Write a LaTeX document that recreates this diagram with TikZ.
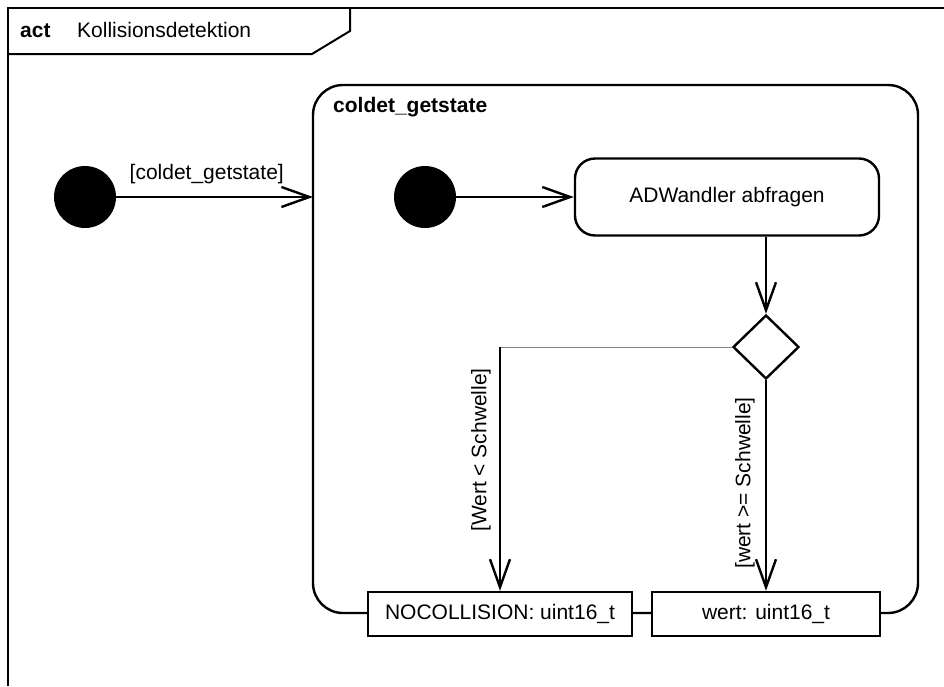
\documentclass[tikz,border=0pt]{standalone}
\usepackage{fontspec}
\setmainfont{Liberation Sans}
\usetikzlibrary{arrows.meta,shapes.geometric}
\begin{document}
\begin{tikzpicture}[x=1pt,y=-1pt,
  every node/.style={font=\fontsize{21}{25}\selectfont, inner sep=0pt},
  line/.style={line width=2.4pt, line join=miter},
  flow/.style={line, -{Straight Barb[length=28pt,width=20pt,line width=2.4pt]}},
  startnode/.style={circle, fill=black, minimum size=62pt},
  actbox/.style={line, draw, rounded corners=20pt, minimum width=304pt, minimum height=77pt},
  decnode/.style={line, draw, diamond, minimum width=66pt, minimum height=64pt},
  pinbox/.style={line, draw, fill=white, minimum height=44pt},
  guard/.style={rotate=90}
]
\useasboundingbox (0,0) rectangle (944,686);

% activity frame with its name tab
\draw[line width=2pt] (8,686) -- (8,8) -- (944,8);
\draw[line width=2pt] (8,54) -- (312,54) -- (350,31) -- (350,8);
\node[anchor=west, font=\fontsize{21}{25}\selectfont\bfseries] (kw) at (20,31) {act};
\node[anchor=west] (title) at (77,30) {Kollisionsdetektion};

% structured activity node
\draw[line, rounded corners=30pt] (313,85) rectangle (918,613);
\node[anchor=west, font=\fontsize{21}{25}\selectfont\bfseries] (sname) at (333,107) {coldet\_getstate};
\coordinate (sentry) at (313,197);

% outer flow into the structured node
\node[startnode] (init) at (85,197) {};
\draw[flow] (init) -- node[pos=0.46, above=12pt] (g0) {[coldet\_getstate]} (sentry);

% inner flow
\node[startnode] (init2) at (425,197) {};
\node[actbox] (ad) at (727,197) {ADWandler abfragen};
\node[decnode] (dec) at (766,347) {};
\draw[flow] (init2) -- (ad);
\draw[flow] (ad.south -| dec) -- (dec.north);

% output pins
\node[pinbox, minimum width=264pt] (nocol) at (500,614) {NOCOLLISION: uint16\_t};
\node[pinbox, minimum width=228pt] (wert) at (766,614) {wert: uint16\_t};

% branches
\coordinate (bend) at (500,347);
\draw[gray, line width=1pt] (dec.west) -- (bend);
\draw[flow] (bend) -- (nocol.north);
\draw[flow] (dec.south) -- (wert.north);
\node[guard] (g1) at (481,450) {[Wert < Schwelle]};
\node[guard] (g2) at (745,483) {[wert >= Schwelle]};
\end{tikzpicture}
\end{document}
